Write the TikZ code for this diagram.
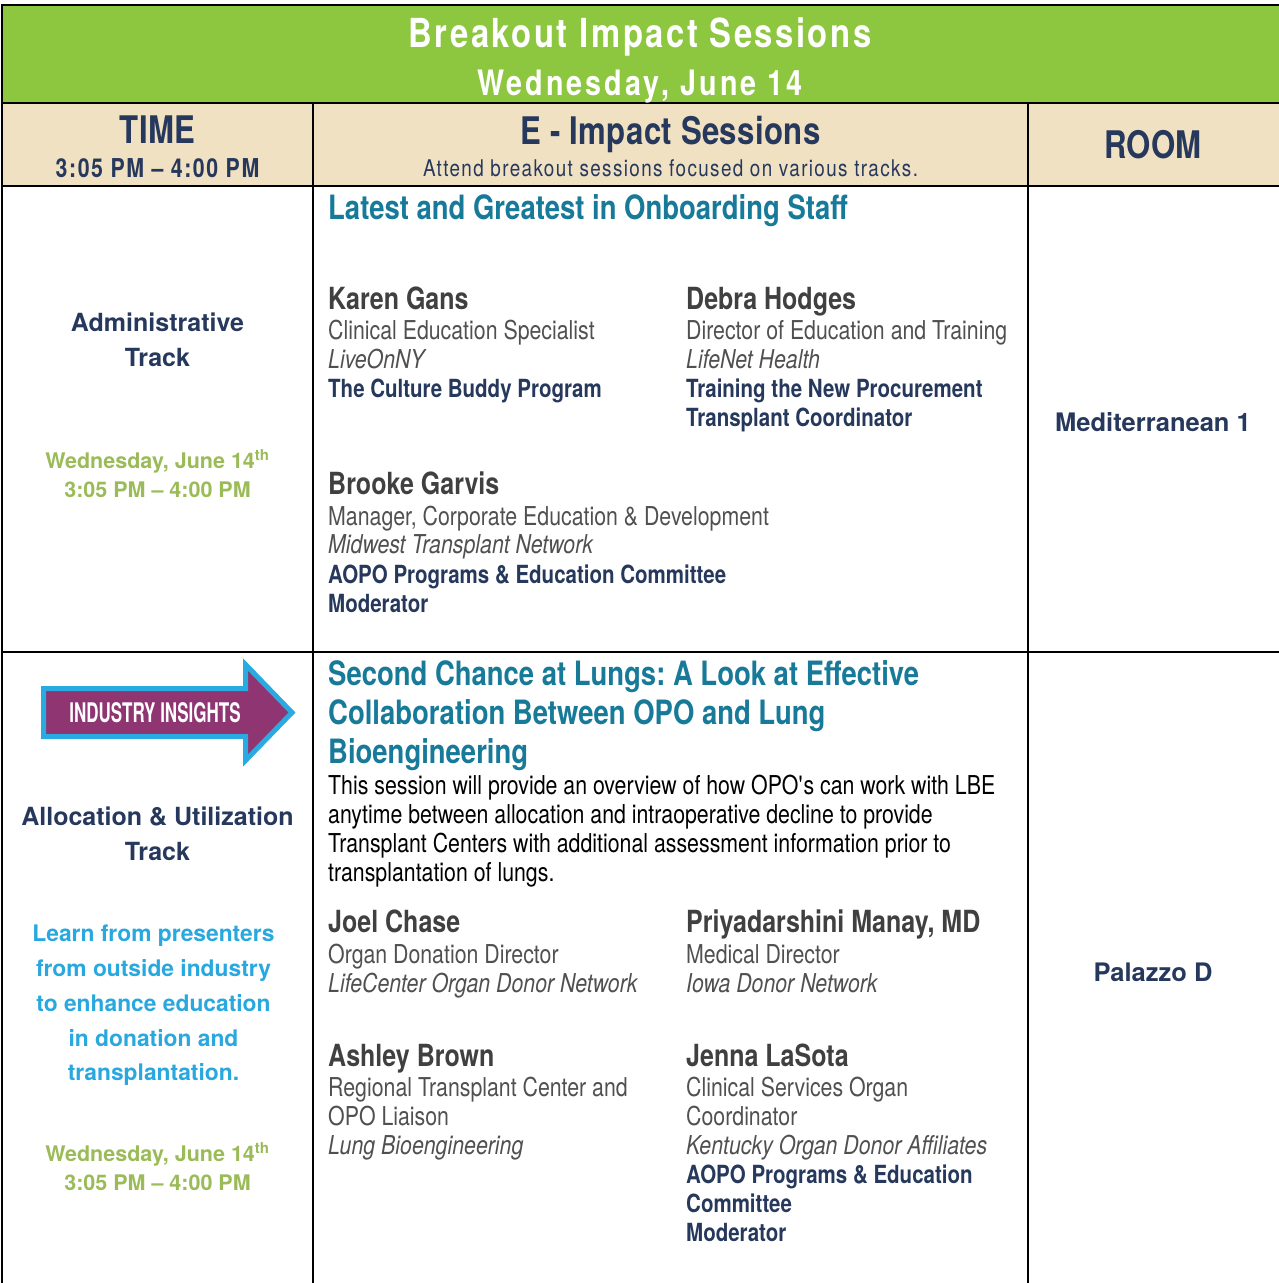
\documentclass[tikz,border=0pt]{standalone}
\usepackage{fontspec}
\setmainfont{TeX Gyre Heros}[FakeStretch=0.82]
\newfontfamily\fullheros{TeX Gyre Heros}
\newfontfamily\tallheros{TeX Gyre Heros}[FakeStretch=0.63]
\usepackage{xcolor}
\usepackage{tikz}
\frenchspacing

\definecolor{hdrgreen}{RGB}{141,198,63}
\definecolor{hdrbeige}{RGB}{240,225,194}
\definecolor{navy}{RGB}{38,56,92}
\definecolor{sessteal}{RGB}{24,122,153}
\definecolor{namegray}{RGB}{64,64,64}
\definecolor{textgray}{RGB}{80,80,80}
\definecolor{dategreen}{RGB}{155,187,89}
\definecolor{skyblue}{RGB}{41,168,224}
\definecolor{plum}{RGB}{142,53,114}
\definecolor{arrowblue}{RGB}{41,171,226}

\tikzset{
  every node/.style={inner sep=0pt},
  grid/.style={line width=2.5pt, black},
  banner/.style={anchor=base, text=white, font=\bfseries\fontsize{40}{44}\selectfont\addfontfeature{LetterSpace=6.3}},
  bannersub/.style={anchor=base, text=white, font=\bfseries\fontsize{35}{40}\selectfont\addfontfeature{LetterSpace=8.6}},
  colhead/.style={anchor=base, text=navy, font=\bfseries\fontsize{38}{42}\selectfont\addfontfeature{LetterSpace=1}},
  colhours/.style={anchor=base, text=navy, font=\bfseries\fontsize{26}{30}\selectfont\addfontfeature{LetterSpace=6}},
  colnote/.style={anchor=base, text=navy, font=\fontsize{23}{27}\selectfont\addfontfeature{LetterSpace=6}},
  sess/.style={anchor=base west, text=sessteal, font=\bfseries\fontsize{33.5}{39}\selectfont},
  who/.style={anchor=base west, text=namegray, font=\bfseries\fontsize{30.5}{33}\selectfont},
  role/.style={anchor=base west, text=textgray, font=\fontsize{26}{29}\selectfont},
  org/.style={anchor=base west, text=textgray, font=\itshape\fontsize{26}{29}\selectfont},
  talk/.style={anchor=base west, text=navy, font=\bfseries\fontsize{25}{29}\selectfont},
  desc/.style={anchor=base west, text=black, font=\fontsize{26}{29}\selectfont},
  track/.style={anchor=base, text=navy, font=\fullheros\bfseries\fontsize{25}{35}\selectfont},
  when/.style={anchor=base, text=dategreen, font=\fullheros\bfseries\fontsize{21.5}{29}\selectfont},
  blurb/.style={anchor=base, text=skyblue, font=\fullheros\bfseries\fontsize{22.8}{35}\selectfont},
  room/.style={anchor=base, text=navy, font=\fullheros\bfseries\fontsize{25.5}{30}\selectfont},
  arrowtxt/.style={anchor=base, text=white, font=\tallheros\bfseries\fontsize{27}{30}\selectfont}
}

\begin{document}
\begin{tikzpicture}[x=1pt,y=-1pt]
\useasboundingbox (0,0) rectangle (1278,1283);
% header bands
\fill[hdrgreen] (2,5) rectangle (1282,103);
\fill[hdrbeige] (2,103) rectangle (1282,186);
% table rules
\draw[grid] (0.75,5) -- (1282,5);
\draw[grid] (2,103) -- (1282,103);
\draw[grid] (2,186) -- (1282,186);
\draw[grid] (2,652) -- (1282,652);
\draw[grid] (2,5) -- (2,1290);
\draw[grid] (313,103) -- (313,1290);
\draw[grid] (1028,103) -- (1028,1290);
% headings
\node[banner] (title) at (640,47) {Breakout Impact Sessions};
\node[bannersub] (day) at (640,95) {Wednesday, June 14};
\node[colhead] (time) at (157.5,143) {TIME};
\node[colhours] (hours) at (157.5,177) {3:05 PM – 4:00 PM};
\node[colhead] (impact) at (670.5,144) {E - Impact Sessions};
\node[colnote] (attend) at (670.5,176) {Attend breakout sessions focused on various tracks.};
\node[colhead] (roomhead) at (1153,158) {ROOM};
% row 1, left column
\node[track] (adm1) at (157.5,331) {Administrative};
\node[track] (adm2) at (157.5,366) {Track};
\node[when] (when1a) at (157.5,468) {Wednesday, June 14\textsuperscript{th}};
\node[when] (when1b) at (157.5,497) {3:05 PM – 4:00 PM};
% row 1, sessions
\node[sess] (s1) at (328,219) {Latest and Greatest in Onboarding Staff};
\node[who] (kg) at (328,309) {Karen Gans};
\node[role] (kg-r) at (328,339) {Clinical Education Specialist};
\node[org] (kg-o) at (328,368) {LiveOnNY};
\node[talk] (kg-t) at (328,397) {The Culture Buddy Program};
\node[who] (dh) at (686,309) {Debra Hodges};
\node[role] (dh-r) at (686,339) {Director of Education and Training};
\node[org] (dh-o) at (686,368) {LifeNet Health};
\node[talk] (dh-t1) at (686,397) {Training the New Procurement};
\node[talk] (dh-t2) at (686,426) {Transplant Coordinator};
\node[who] (bg) at (328,494) {Brooke Garvis};
\node[role] (bg-r) at (328,525) {Manager, Corporate Education \& Development};
\node[org] (bg-o) at (328,553) {Midwest Transplant Network};
\node[talk] (bg-t1) at (328,583) {AOPO Programs \& Education Committee};
\node[talk] (bg-t2) at (328,612) {Moderator};
\node[room] (room1) at (1153,431) {Mediterranean 1};
% row 2, left column
\draw[line width=5pt, draw=arrowblue, fill=plum, line join=miter]
  (43.5,688.5) -- (245.5,688.5) -- (245.5,664.5) -- (292,712.5)
  -- (245.5,760.5) -- (245.5,736.5) -- (43.5,736.5) -- cycle;
\node[arrowtxt] (insights) at (155,722) {INDUSTRY INSIGHTS};
\node[track] (alloc1) at (157.5,825) {Allocation \& Utilization};
\node[track] (alloc2) at (157.5,860) {Track};
\foreach \ln [count=\i] in {Learn from presenters, from outside industry,
    to enhance education, in donation and, transplantation.}
  \node[blurb, name=blurb\i] at (153.5,907+34.75*\i) {\ln};
\node[when] (when2a) at (157.5,1161) {Wednesday, June 14\textsuperscript{th}};
\node[when] (when2b) at (157.5,1190) {3:05 PM – 4:00 PM};
% row 2, sessions
\foreach \ln [count=\i] in {Second Chance at Lungs: A Look at Effective,
    Collaboration Between OPO and Lung, Bioengineering}
  \node[sess, name=s2-\i] at (328,646+39*\i) {\ln};
\foreach \ln [count=\i] in {This session will provide an overview of how OPO\textquotesingle s can work with LBE,
    anytime between allocation and intraoperative decline to provide,
    Transplant Centers with additional assessment information prior to,
    transplantation of lungs.}
  \node[desc, name=d2-\i] at (328,765+29*\i) {\ln};
\node[who] (jc) at (328,932) {Joel Chase};
\node[role] (jc-r) at (328,963) {Organ Donation Director};
\node[org] (jc-o) at (328,992) {LifeCenter Organ Donor Network};
\node[who] (pm) at (686,932) {Priyadarshini Manay, MD};
\node[role] (pm-r) at (686,963) {Medical Director};
\node[org] (pm-o) at (686,992) {Iowa Donor Network};
\node[who] (ab) at (328,1066) {Ashley Brown};
\node[role] (ab-r1) at (328,1096) {Regional Transplant Center and};
\node[role] (ab-r2) at (328,1125) {OPO Liaison};
\node[org] (ab-o) at (328,1154) {Lung Bioengineering};
\node[who] (jl) at (686,1066) {Jenna LaSota};
\node[role] (jl-r1) at (686,1096) {Clinical Services Organ};
\node[role] (jl-r2) at (686,1125) {Coordinator};
\node[org] (jl-o) at (686,1154) {Kentucky Organ Donor Affiliates};
\node[talk] (jl-t1) at (686,1183) {AOPO Programs \& Education};
\node[talk] (jl-t2) at (686,1212) {Committee};
\node[talk] (jl-t3) at (686,1241) {Moderator};
\node[room] (room2) at (1153,981) {Palazzo D};
\end{tikzpicture}
\end{document}
